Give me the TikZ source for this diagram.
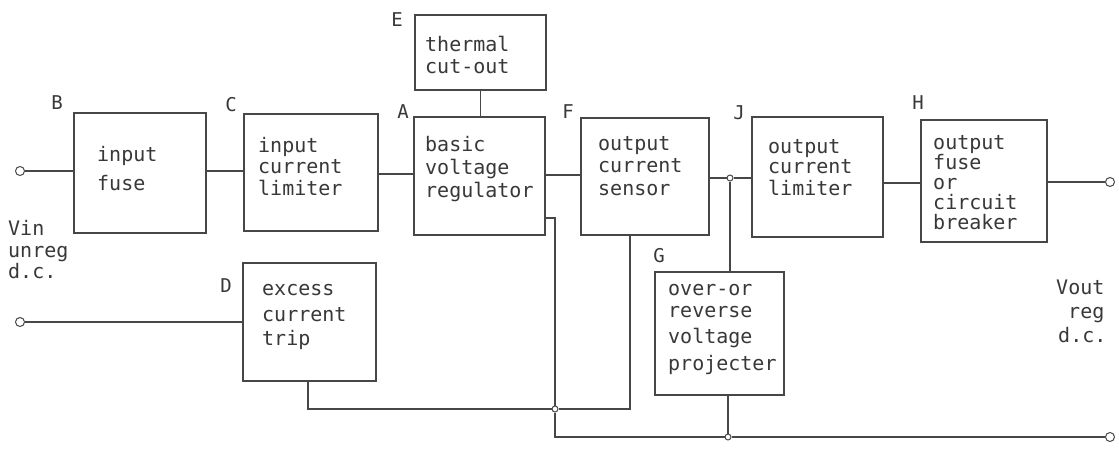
\documentclass[tikz,border=0pt]{standalone}
\usepackage{fontspec}
\newfontfamily\dmono{DejaVu Sans Mono}
\begin{document}
\begin{tikzpicture}[x=1pt,y=-1pt,
  box/.style={draw=black!72, line width=1.5pt, inner sep=0pt},
  wire/.style={draw=black!72, line width=1.1pt},
  txt/.style={anchor=base west, inner sep=0pt, text=black!78, font=\dmono\fontsize{20}{22}\selectfont},
  lbl/.style={anchor=center, inner sep=0pt, text=black!78, font=\dmono\fontsize{19}{22}\selectfont},
  term/.style={circle, draw=black!72, line width=1pt, minimum size=9pt, inner sep=0pt, fill=white},
  jn/.style={circle, draw=black!72, line width=1pt, minimum size=6pt, inner sep=0pt, fill=white}]
\useasboundingbox[fill=white] (0,0) rectangle (1119,452);

% boxes
\node[box, minimum width=132pt, minimum height=120pt] (B) at (140,173) {};
\node[box, minimum width=134pt, minimum height=117pt] (C) at (311,172.5) {};
\node[box, minimum width=131pt, minimum height=118pt] (A) at (479.5,176) {};
\node[box, minimum width=131pt, minimum height=75pt] (E) at (480.5,52.5) {};
\node[box, minimum width=128pt, minimum height=117pt] (F) at (645,176.5) {};
\node[box, minimum width=131pt, minimum height=120pt] (J) at (817.5,177) {};
\node[box, minimum width=126pt, minimum height=122pt] (H) at (984,181) {};
\node[box, minimum width=133pt, minimum height=118pt] (D) at (309.5,322) {};
\node[box, minimum width=129pt, minimum height=123pt] (G) at (719.5,333.5) {};

% box texts
\node[txt] (b1) at (97,161.5) {input};
\node[txt] (b2) at (97,190.5) {fuse};
\node[txt] (c1) at (258,152.5) {input};
\node[txt] (c2) at (258,173.5) {current};
\node[txt] (c3) at (258,195.5) {limiter};
\node[txt] (a1) at (425,151.5) {basic};
\node[txt] (a2) at (425,174.5) {voltage};
\node[txt] (a3) at (425,197.5) {regulator};
\node[txt] (e1) at (425,51.5) {thermal};
\node[txt] (e2) at (425,73.5) {cut-out};
\node[txt] (f1) at (598,150.5) {output};
\node[txt] (f2) at (598,172.5) {current};
\node[txt] (f3) at (598,195.5) {sensor};
\node[txt] (j1) at (768,153.5) {output};
\node[txt] (j2) at (768,173.5) {current};
\node[txt] (j3) at (768,195.5) {limiter};
\node[txt] (h1) at (933,149) {output};
\node[txt] (h2) at (933,169) {fuse};
\node[txt] (h3) at (933,189) {or};
\node[txt] (h4) at (933,209) {circuit};
\node[txt] (h5) at (933,229) {breaker};
\node[txt] (d1) at (262,295.5) {excess};
\node[txt] (d2) at (262,321.5) {current};
\node[txt] (d3) at (262,345.5) {trip};
\node[txt] (g1) at (668,295.5) {over-or};
\node[txt] (g2) at (668,317.5) {reverse};
\node[txt] (g3) at (668,343.5) {voltage};
\node[txt] (g4) at (668,370.5) {projecter};

% side texts
\node[txt] (vin1) at (8,235.5) {Vin};
\node[txt] (vin2) at (8,257.5) {unreg};
\node[txt] (vin3) at (8,278.5) {d.c.};
\node[txt] (vo1) at (1056,294) {Vout};
\node[txt] (vo2) at (1068,318) {reg};
\node[txt] (vo3) at (1058,342) {d.c.};

% letter labels
\node[lbl] (lB) at (57,103) {B};
\node[lbl] (lC) at (231,105) {C};
\node[lbl] (lA) at (403,112) {A};
\node[lbl] (lE) at (397,20) {E};
\node[lbl] (lF) at (568,112) {F};
\node[lbl] (lJ) at (739,113) {J};
\node[lbl] (lH) at (918,103) {H};
\node[lbl] (lD) at (226,286) {D};
\node[lbl] (lG) at (659,256) {G};

% terminals and junctions
\node[term] (vin) at (20,171) {};
\node[term] (vd) at (20,322) {};
\node[term] (vout) at (1110,182) {};
\node[term] (vbus) at (1110,437) {};
\node[jn] (jF) at (730,178) {};
\node[jn] (jA) at (555,409) {};
\node[jn] (jG) at (728,437) {};
\coordinate (aR) at (555,218);
\coordinate (bL) at (555,437);
\coordinate (dK) at (308,409);
\coordinate (fK) at (630,409);

% main path
\draw[wire] (vin) -- (vin -| B.west);
\draw[wire] (B.east |- 0,171) -- (C.west |- 0,171);
\draw[wire] (C.east |- 0,174) -- (A.west |- 0,174);
\draw[wire] (A.east |- 0,175) -- (F.west |- 0,175);
\draw[wire] (F.east |- jF) -- (jF) -- (J.west |- jF);
\draw[wire] (J.east |- 0,183) -- (H.west |- 0,183);
\draw[wire] (H.east |- vout) -- (vout);
\draw[wire] (E.south) -- (E.south |- A.north);
% feedback / protection
\draw[wire] (jF) -- (jF |- G.north);
\draw[wire] (vd) -- (vd -| D.west);
\draw[wire] (A.east |- aR) -- (aR) -- (jA);
\draw[wire] (jA) -- (bL) -- (jG);
\draw[wire] (jG) -- (vbus);
\draw[wire] (D.south -| dK) -- (dK) -- (jA);
\draw[wire] (F.south -| fK) -- (fK) -- (jA);
\draw[wire] (G.south -| jG) -- (jG);
\end{tikzpicture}
\end{document}
